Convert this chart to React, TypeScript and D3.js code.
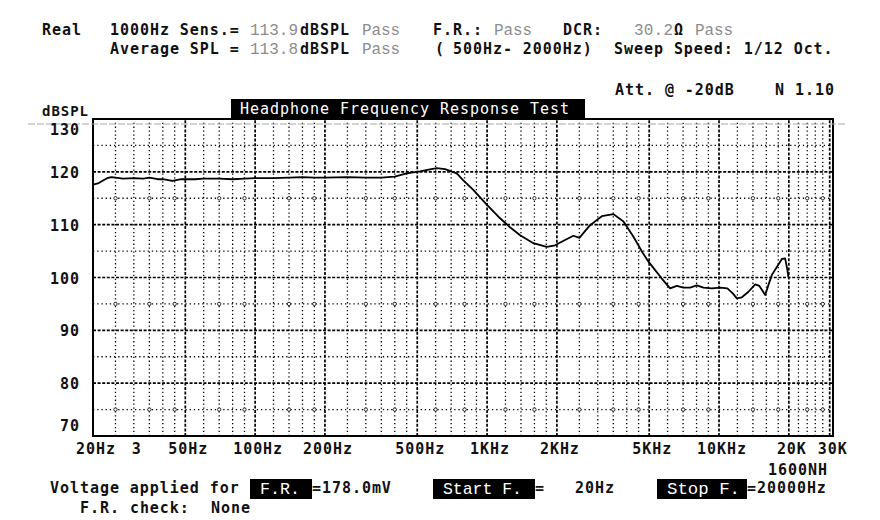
import React from 'react';
import * as d3 from 'd3';

const freqs = [
  20, 21, 22, 23, 24, 25, 27, 30, 33, 35, 38, 40, 44, 48, 55, 60, 70, 80, 90, 100,
  120, 140, 160, 180, 200, 250, 300, 350, 400, 450, 514, 560, 607, 659, 740, 790, 872, 997,
  1119, 1256, 1388, 1584, 1808, 1964, 2168, 2356, 2500, 2780, 3124, 3506, 3873, 4276, 4700,
  4964, 5304, 5666, 6152, 6576, 7020, 7500, 8020, 8570, 9312, 10116, 10866, 11460, 11940,
  12540, 13398, 14320, 14930, 15814, 16332, 16900, 17758, 18660, 19280, 19720, 19900,
];
const spl = [
  117.6, 117.8, 118.3, 118.8, 119.0, 118.9, 118.7, 118.8, 118.7, 118.9, 118.6, 118.6, 118.3, 118.6, 118.6, 118.7, 118.7, 118.6, 118.7, 118.8,
  118.8, 118.9, 119.0, 118.9, 118.9, 119.0, 118.9, 118.9, 119.1, 119.7, 120.1, 120.4, 120.7, 120.5, 119.7, 118.4, 116.6, 113.8,
  111.5, 109.5, 108.0, 106.5, 105.8, 106.1, 107.1, 107.9, 107.5, 109.9, 111.6, 112.0, 110.6, 107.7, 104.6,
  103.0, 101.4, 99.8, 97.95, 98.4, 98.1, 98.1, 98.5, 98.1, 97.95, 98.1, 97.95, 97.0, 96.05,
  96.25, 97.3, 98.7, 98.4, 96.7, 98.6, 100.5, 102.0, 103.5, 103.6, 101.4, 100.1,
];

const yTicks = [130, 120, 110, 100, 90, 80, 70];
const yMajor = [80, 90, 100, 110, 120];
const yMinor = [75, 85, 95, 105, 115, 125];
const yCircleRows = [75, 95, 115];

const xMajor = [50, 100, 200, 500, 1000, 2000, 5000, 10000, 20000, 30000];
const xMinor = [
  25, 30, 35, 40, 45, 60, 70, 80, 90, 120, 140, 160, 180, 250, 300, 350, 400, 450,
  600, 700, 800, 900, 1200, 1400, 1600, 1800, 2500, 3000, 3500, 4000, 4500,
  6000, 7000, 8000, 9000, 12000, 14000, 16000, 18000, 22000, 24000, 26000, 28000,
];
const xTickFreqs = [20, 30, 50, 100, 200, 500, 1000, 2000, 5000, 10000, 20000, 30000];
const xTickLabels = ['20Hz', '3', '50Hz', '100Hz', '200Hz', '500Hz', '1KHz', '2KHz', '5KHz', '10KHz', '20K', '30K'];

const MONO = '"DejaVu Sans Mono", monospace';
const GRAY = '#8c8c8c';

const B = ({ x, y, children, size = 15, fill = '#111', anchor = 'start' }: any) => (
  <text x={x} y={y} fontFamily={MONO} fontWeight="bold" fontSize={size} letterSpacing={0.95}
    fill={fill} textAnchor={anchor}>{children}</text>
);
const G = ({ x, y, children, w }: any) => (
  <text x={x} y={y} fontFamily='"Liberation Mono", monospace' fontSize={16} fill={GRAY}
    textLength={w} lengthAdjust="spacing">{children}</text>
);
// black tab with white label; tx/tw = where the label sits and how wide it is
const Box = ({ x, y, w, h, label, tx, tw }: any) => (
  <g>
    <rect x={x} y={y} width={w} height={h} fill="#000" />
    <text x={tx} y={y + h - 5} fontFamily='"Liberation Mono", monospace' fontSize={17} fill="#fff"
      textLength={tw} lengthAdjust="spacingAndGlyphs">{label}</text>
  </g>
);

export default function App() {
  const x = d3.scaleLog().domain([20, 31000]).range([93, 833]);
  const y = d3.scaleLinear().domain([70, 130]).range([436, 119]);
  const [x0, x1] = x.range();
  const [y0, y1] = y.range();

  const line = d3.line<number>()
    .x((_, i) => x(freqs[i]))
    .y(d => y(d));

  const labelY = (v: number) => y(Math.max(72, Math.min(128.2, v)));

  return (
    <svg width={880} height={520} style={{ position: 'absolute', left: 0, top: 0, background: '#fff' }}>
      <rect width={880} height={520} fill="#fff" />

      {/* header */}
      <B x={42} y={35}>Real</B>
      <B x={110} y={35}>1000Hz Sens.=</B>
      <G x={250} y={35} w={48}>113.9</G>
      <B x={300} y={35}>dBSPL</B>
      <G x={362} y={35} w={38}>Pass</G>
      <B x={433} y={35}>F.R.:</B>
      <G x={494} y={35} w={38}>Pass</G>
      <B x={563} y={35}>DCR:</B>
      <G x={634} y={35} w={39}>30.2</G>
      <B x={674} y={35}>Ω</B>
      <G x={695} y={35} w={38}>Pass</G>

      <B x={110} y={54}>Average SPL =</B>
      <G x={250} y={54} w={48}>113.8</G>
      <B x={300} y={54}>dBSPL</B>
      <G x={362} y={54} w={38}>Pass</G>
      <B x={435} y={54}>(</B>
      <B x={453} y={54}>500Hz- 2000Hz)</B>
      <B x={614} y={54}>Sweep Speed: 1/12 Oct.</B>

      <B x={615} y={95}>Att. @ -20dB</B>
      <B x={775} y={95}>N 1.10</B>

      <B x={42} y={116} size={14}>dBSPL</B>

      {/* title tab */}
      <rect x={231} y={99} width={354} height={21} fill="#000" />
      <text x={240} y={114} fontFamily={MONO} fontSize={15} letterSpacing={0.97} fill="#fff">
        Headphone Frequency Response Test
      </text>

      {/* grid */}
      <g stroke="#000" fill="none">
        {yMinor.map(v => (
          <line key={'ym' + v} x1={x0} x2={x1} y1={y(v)} y2={y(v)} strokeWidth={1.3} strokeDasharray="1.3 2.9" />
        ))}
        {xMinor.map(f => (
          <line key={'xm' + f} x1={x(f)} x2={x(f)} y1={y0} y2={y1} strokeWidth={1.3} strokeDasharray="1.3 2.6" />
        ))}
        {yMajor.map(v => (
          <line key={'yM' + v} x1={x0} x2={x1} y1={y(v)} y2={y(v)} strokeWidth={1.7} strokeDasharray="3 1.6" />
        ))}
        {xMajor.map(f => (
          <line key={'xM' + f} x1={x(f)} x2={x(f)} y1={y0} y2={y1} strokeWidth={1.7} strokeDasharray="3 1.6" />
        ))}
        {yCircleRows.map(v => xMinor.filter((_, i) => i % 2 === 0).map(f => (
          <circle key={'c' + v + '-' + f} cx={x(f)} cy={y(v)} r={1.7} fill="#fff" strokeWidth={0.8} />
        )))}
        <rect x={x0} y={y1} width={x1 - x0} height={y0 - y1} strokeWidth={2} />
      </g>

      {/* faint scan line across top */}
      <line x1={28} x2={845} y1={124} y2={124} stroke="#a8a8a8" strokeWidth={1} strokeDasharray="7 2" />

      {/* response curve */}
      <path d={line(spl) || ''} fill="none" stroke="#000" strokeWidth={1.8} strokeLinejoin="round" />

      {/* y labels */}
      {yTicks.map(v => (
        <B key={'yl' + v} x={80} y={labelY(v) + 6} size={15} anchor="end">{v}</B>
      ))}

      {/* x labels */}
      {xTickFreqs.map((f, i) => (
        <B key={'xl' + f} x={x(f) + 3} y={454} size={15} anchor="middle">{xTickLabels[i]}</B>
      ))}
      <B x={768} y={475}>1600NH</B>

      {/* footer */}
      <B x={50} y={493}>Voltage applied for</B>
      <Box x={250} y={479} w={62} h={20} label="F.R." tx={260} tw={40} />
      <B x={312} y={493}>=178.0mV</B>
      <Box x={433} y={479} w={102} h={20} label="Start F." tx={443} tw={79} />
      <B x={535} y={493}>=</B>
      <B x={575} y={493}>20Hz</B>
      <Box x={657} y={479} w={90} h={20} label="Stop F." tx={667} tw={73} />
      <B x={747} y={493}>=20000Hz</B>

      <B x={80} y={513}>F.R. check:</B>
      <B x={211} y={513}>None</B>
    </svg>
  );
}
